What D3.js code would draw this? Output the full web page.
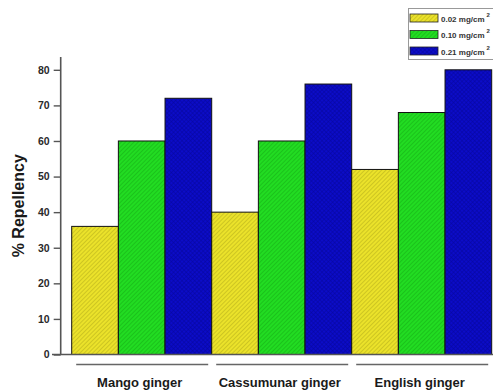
<!DOCTYPE html>
<html>
<head>
<meta charset="utf-8">
<script src="https://cdn.jsdelivr.net/npm/d3@7"></script>
<style>
  html, body { margin: 0; padding: 0; background: #fff; }
  svg { display: block; font-family: Arial, "Liberation Sans", sans-serif; }
</style>
</head>
<body>
<svg id="chart" width="493" height="391"></svg>
<script>
// Ginger varieties and repellency (%) at three doses
const categories = ["Mango ginger", "Cassumunar ginger", "English ginger"];
const seriesNames = ["0.02 mg/cm", "0.10 mg/cm", "0.21 mg/cm"];
const dose002 = [36, 40, 52];
const dose010 = [60, 60, 68];
const dose021 = [72, 76, 80];
const yTicks = [0, 10, 20, 30, 40, 50, 60, 70, 80];

const seriesValues = [dose002, dose010, dose021];
const fills = [
  { id: "hatchYellow", base: "#ebe22a", line: "#b0a81a", cross: false },
  { id: "hatchGreen", base: "#22dc22", line: "#14a814", cross: false },
  { id: "hatchBlue", base: "#0c0cc8", line: "#06069a", cross: true }
];

const svg = d3.select("#chart");
const defs = svg.append("defs");

// Diagonal hatch fills (blue gets a cross-hatch)
fills.forEach(f => {
  const p = defs.append("pattern")
    .attr("id", f.id)
    .attr("patternUnits", "userSpaceOnUse")
    .attr("width", 3).attr("height", 3)
    .attr("patternTransform", "rotate(45)");
  p.append("rect").attr("width", 3).attr("height", 3).attr("fill", f.base);
  p.append("line").attr("x1", 0).attr("y1", 0).attr("x2", 0).attr("y2", 3)
    .attr("stroke", f.line).attr("stroke-width", 1);
  if (f.cross) {
    p.append("line").attr("x1", 0).attr("y1", 0).attr("x2", 3).attr("y2", 0)
      .attr("stroke", f.line).attr("stroke-width", 1);
  }
});

const axisX = 60.7, baseY = 354.5, axisTop = 57;
const x0 = d3.scaleBand().domain(categories).range([71.7, 491.7]).padding(0);
const x1 = d3.scaleBand().domain(d3.range(seriesNames.length)).range([0, x0.bandwidth()]).padding(0);
const y = d3.scaleLinear().domain([0, 83.6]).range([baseY, axisTop]);

// Bars
const groups = svg.append("g").selectAll("g")
  .data(categories)
  .join("g")
  .attr("transform", d => `translate(${x0(d)},0)`);

groups.selectAll("rect")
  .data((d, i) => seriesValues.map((vals, s) => ({ s, v: vals[i] })))
  .join("rect")
  .attr("x", d => x1(d.s))
  .attr("width", x1.bandwidth())
  .attr("y", d => y(d.v))
  .attr("height", d => y(0) - y(d.v))
  .attr("fill", d => `url(#${fills[d.s].id})`)
  .attr("stroke", "#111")
  .attr("stroke-width", 1);

// Y axis
const yAxis = d3.axisLeft(y).tickValues(yTicks).tickSize(7).tickSizeOuter(0).tickPadding(4);
const gy = svg.append("g").attr("transform", `translate(${axisX},0)`).call(yAxis);
gy.select(".domain").attr("stroke", "#555").attr("stroke-width", 1.6)
  .attr("d", `M0,${baseY}V${axisTop}`);
gy.selectAll(".tick line").attr("stroke", "#555").attr("stroke-width", 1.4);
gy.selectAll(".tick text")
  .attr("fill", "#2a2a2a").attr("font-size", 10.5).attr("font-weight", "bold")
  .attr("font-family", "Arial, 'Liberation Sans', sans-serif");

// X baseline
svg.append("line")
  .attr("x1", 52).attr("x2", 493).attr("y1", baseY).attr("y2", baseY)
  .attr("stroke", "#555").attr("stroke-width", 1.6);

// Group underlines and labels
const cats = svg.append("g").selectAll("g").data(categories).join("g");
cats.append("line")
  .attr("x1", d => x0(d) + 4.5)
  .attr("x2", d => x0(d) + x0.bandwidth() - 3.5)
  .attr("y1", 364.5).attr("y2", 364.5)
  .attr("stroke", "#666").attr("stroke-width", 1.5);
cats.append("text")
  .attr("x", d => x0(d) + x0.bandwidth() / 2 - 2)
  .attr("y", 387)
  .attr("text-anchor", "middle")
  .attr("font-size", 13).attr("font-weight", "bold").attr("fill", "#1a1a1a")
  .text(d => d);

// Y axis title
svg.append("text")
  .attr("transform", `translate(24,${(baseY + axisTop) / 2}) rotate(-90)`)
  .attr("text-anchor", "middle")
  .attr("font-size", 16).attr("font-weight", "bold").attr("fill", "#1a1a1a")
  .text("% Repellency");

// Legend
const legend = svg.append("g");
legend.append("rect")
  .attr("x", 408.5).attr("y", 8.5).attr("width", 86).attr("height", 51)
  .attr("fill", "#fff").attr("stroke", "#999").attr("stroke-width", 1);
const items = legend.selectAll("g.item").data(seriesNames).join("g")
  .attr("class", "item")
  .attr("transform", (d, i) => `translate(410,${14 + i * 16.5})`);
items.append("rect")
  .attr("width", 28).attr("height", 8)
  .attr("fill", (d, i) => `url(#${fills[i].id})`)
  .attr("stroke", "#222").attr("stroke-width", 0.8);
const lt = items.append("text")
  .attr("x", 31).attr("y", 7.5)
  .attr("font-size", 8).attr("font-weight", "bold").attr("fill", "#333");
lt.append("tspan").text(d => d);
lt.append("tspan").attr("dy", -5).attr("dx", 2).attr("font-size", 6).text("2");
</script>
</body>
</html>
